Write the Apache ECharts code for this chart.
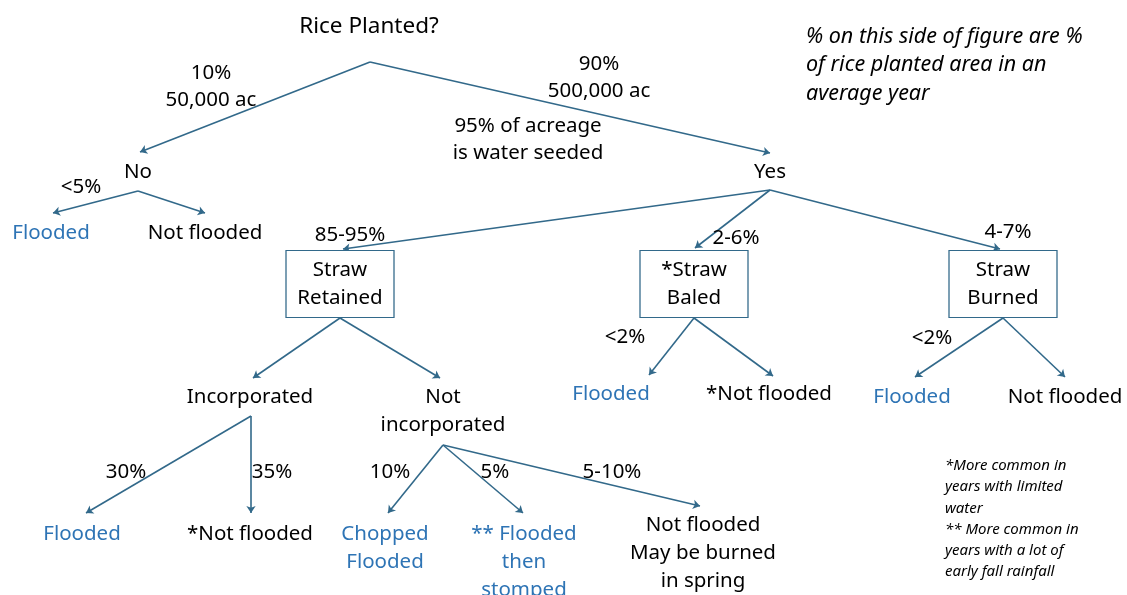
<!DOCTYPE html>
<html><head><meta charset="utf-8">
<script src="https://cdn.jsdelivr.net/npm/echarts@6/dist/echarts.min.js"></script>
<style>html,body{margin:0;padding:0;background:#fff}#c{width:1127px;height:595px}</style>
</head><body><div id="c"></div>
<script>
// ---- Diagram content ----
const nodeTexts = ['Rice Planted?', 'No', 'Yes', 'Flooded', 'Not flooded',
  'Straw\nRetained', '*Straw\nBaled', 'Straw\nBurned',
  'Incorporated', 'Not\nincorporated', 'Flooded', '*Not flooded', 'Flooded', 'Not flooded',
  'Flooded', '*Not flooded', 'Chopped\nFlooded', '** Flooded\nthen\nstomped', 'Not flooded\nMay be burned\nin spring'];
const nodeBlue = [0,0,0,1,0, 0,0,0, 0,0,1,0,1,0, 1,0,1,1,0];
const nodeBoxed = [0,0,0,0,0, 1,1,1, 0,0,0,0,0,0, 0,0,0,0,0];
const edgeLabels = ['10%\n50,000 ac', '90%\n500,000 ac', '95% of acreage\nis water seeded', '<5%',
  '85-95%', '2-6%', '4-7%', '<2%', '<2%', '30%', '35%', '10%', '5%', '5-10%'];
const noteText = '% on this side of figure are %\nof rice planted area in an\naverage year';
const footText = '*More common in\nyears with limited\nwater\n** More common in\nyears with a lot of\nearly fall rainfall';

// ---- Layout (pixel space of the 1127x595 canvas) ----
const nodePos = [[369,27],[138,172],[770,172],[51,233],[205,233],
  [340,284],[694,284],[1003,284],
  [250,397],[443,411],[611,394],[769,394],[912,397],[1065,397],
  [82,534],[250,534],[385,548],[524,562],[703,553]];
const edgeLabelPos = [[211,87],[599,78],[528,140],[81,187],[350,235],[736,238],[1008,232],
  [625,337],[932,338],[126,472],[272,472],[390,472],[495,472],[612,472]];
const edges = [
  [[370,62],[140,152]], [[370,62],[770,153]],
  [[138,191],[53,213]], [[138,191],[205,213]],
  [[770,190],[343,249]], [[770,190],[695,248]], [[770,190],[1000,249]],
  [[340,318],[253,378]], [[340,318],[440,378]],
  [[694,318],[649,375]], [[694,318],[773,376]],
  [[1003,318],[915,377]], [[1003,318],[1065,377]],
  [[251,416],[86,513]], [[251,416],[251,513]],
  [[443,445],[388,513]], [[443,445],[523,513]], [[443,445],[700,506]]
];
const boxSize = [108, 67];

const LINE = '#32698a';
const BLUE = '#2e74b5';
const TXT = '#000';
const FONT = 'Noto Sans';

const chart = echarts.init(document.getElementById('c'), null, {renderer: 'canvas'});
const nodeData = nodeTexts.map((t, i) => ({
  value: nodePos[i],
  name: t,
  symbol: nodeBoxed[i] ? 'rect' : 'circle',
  symbolSize: nodeBoxed[i] ? boxSize : 0,
  itemStyle: nodeBoxed[i] ? {color: '#fff', borderColor: LINE, borderWidth: 1, opacity: 1} : {color: 'transparent', opacity: 1},
  label: {color: nodeBlue[i] ? BLUE : TXT, fontSize: i === 0 ? 22.5 : 20.5}
}));
const plainItem = {color: 'transparent', opacity: 1};
chart.setOption({
  animation: false,
  grid: {left: 0, right: 0, top: 0, bottom: 0},
  xAxis: {type: 'value', min: 0, max: 1127, show: false},
  yAxis: {type: 'value', min: 0, max: 595, inverse: true, show: false},
  series: [
    {
      type: 'lines', coordinateSystem: 'cartesian2d', silent: true,
      symbol: ['none', 'arrow'], symbolSize: 7,
      lineStyle: {color: LINE, width: 1.6, opacity: 1},
      data: edges.map(e => ({coords: e}))
    },
    {
      type: 'scatter', silent: true, z: 3,
      itemStyle: {opacity: 1},
      data: nodeData,
      label: {show: true, position: 'inside', formatter: p => p.name, opacity: 1,
        fontFamily: FONT, fontSize: 20.5, lineHeight: 28, align: 'center'}
    },
    {
      type: 'scatter', silent: true, z: 4, symbolSize: 0, itemStyle: plainItem,
      data: edgeLabels.map((t, i) => ({value: edgeLabelPos[i], name: t})),
      label: {show: true, position: 'inside', formatter: p => p.name, color: TXT, opacity: 1,
        fontFamily: FONT, fontSize: 20.5, lineHeight: 27, align: 'center'}
    },
    {
      type: 'scatter', silent: true, z: 4, symbolSize: 0, itemStyle: plainItem,
      data: [{value: [806, 65], name: noteText}],
      label: {show: true, position: 'right', distance: 0, formatter: p => p.name, color: TXT, opacity: 1,
        fontFamily: FONT, fontStyle: 'italic', fontSize: 21.5, lineHeight: 28.5, align: 'left'}
    },
    {
      type: 'scatter', silent: true, z: 4, symbolSize: 0, itemStyle: plainItem,
      data: [{value: [945, 519], name: footText}],
      label: {show: true, position: 'right', distance: 0, formatter: p => p.name, color: TXT, opacity: 1,
        fontFamily: FONT, fontStyle: 'italic', fontSize: 15, lineHeight: 21.2, align: 'left'}
    }
  ]
});
</script></body></html>
